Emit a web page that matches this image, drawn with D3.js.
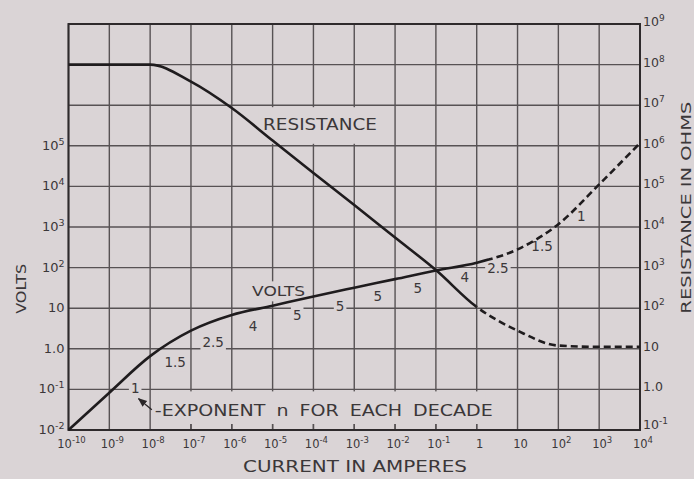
<!DOCTYPE html>
<html><head><meta charset="utf-8">
<script src="https://cdn.jsdelivr.net/npm/d3@7"></script>
<style>
html,body{margin:0;padding:0;background:#d9d3d5;}
svg{display:block;}
text{font-family:"DejaVu Sans","Liberation Sans",sans-serif;fill:#3b3739;}
</style>
</head><body>
<svg id="chart" width="694" height="479"></svg>
<script>
// ---------- data ----------
const currentTicks = [1e-10,1e-9,1e-8,1e-7,1e-6,1e-5,1e-4,1e-3,1e-2,1e-1,1,10,1e2,1e3,1e4];
const currentTickLabels = ["10^-10","10^-9","10^-8","10^-7","10^-6","10^-5","10^-4","10^-3","10^-2","10^-1","1","10","10^2","10^3","10^4"];
const voltGridTicks = [1e-2,1e-1,1,10,1e2,1e3,1e4,1e5,1e6,1e7,1e8];
const voltTicks = [1e-2,1e-1,1,10,1e2,1e3,1e4,1e5];
const voltTickLabels = ["10^-2","10^-1","1.0","10","10^2","10^3","10^4","10^5"];
const ohmTicks = [1e-1,1,10,1e2,1e3,1e4,1e5,1e6,1e7,1e8,1e9];
const ohmTickLabels = ["10^-1","1.0","10","10^2","10^3","10^4","10^5","10^6","10^7","10^8","10^9"];

// curves read at each decade of current
const current = [1e-10,1e-9,1e-8,1e-7,1e-6,1e-5,1e-4,1e-3,1e-2,1e-1,1,10,1e2,1e3,1e4];
const volts   = [0.01,0.083,0.66,2.8,6.8,11.5,19.5,32,52,85,132,282,1170,11200,117000];
const ohms    = [1e8,1e8,1e8,3.8e7,8.5e6,1.35e6,2.15e5,3.5e4,5.5e3,870,107,28,12,11.2,11.2];
const voltsDashFrom = 2;   // amperes: extrapolated part drawn dashed
const ohmsDashFrom = 1;

// exponent n for each decade (annotation placed at current / volts)
const exponentLabels = ["1","1.5","2.5","4","5","5","5","5","4","2.5","1.5","1"];
const exponentAtCurrent = [4.3e-9,4.1e-8,3.5e-7,3.3e-6,4.0e-5,4.5e-4,3.8e-3,3.6e-2,0.51,3.3,40,363];
const exponentAtVolts   = [0.107,0.47,1.48,3.6,6.8,11.2,20,32,59,98,339,1860];

// ---------- layout ----------
const svg = d3.select("#chart");
const W = 694, H = 479;
const L = 68.5, R = 640, T = 24, B = 430;
const bg = "#dad4d6";
const ink = "#1f1c1e";
const gridCol = "#575254";

svg.append("rect").attr("width",W).attr("height",H).attr("fill",bg);

const x = d3.scaleLog().domain([1e-10,1e4]).range([L,R]);
const yV = d3.scaleLog().domain([1e-2,1e8]).range([B,T]);
const yR = d3.scaleLog().domain([1e-1,1e9]).range([B,T]);

// grid
const grid = svg.append("g");
grid.selectAll("line.v").data(currentTicks).join("line")
  .attr("x1",d=>x(d)).attr("x2",d=>x(d)).attr("y1",T).attr("y2",B)
  .attr("stroke",gridCol).attr("stroke-width",1.4);
grid.selectAll("line.h").data(voltGridTicks).join("line")
  .attr("y1",d=>yV(d)).attr("y2",d=>yV(d)).attr("x1",L).attr("x2",R)
  .attr("stroke",gridCol).attr("stroke-width",1.4);

// boxes masking the grid behind lettering
const boxes = svg.append("g");
boxes.append("rect").attr("x",x(1.6e-8)).attr("y",yV(0.1)+2)
  .attr("width",x(1.6)-x(1.6e-8)).attr("height",B-yV(0.1)-8).attr("fill",bg);
boxes.append("rect").attr("x",x(4.4e-6)).attr("y",yR(1e7)+2)
  .attr("width",x(4.8e-3)-x(4.4e-6)).attr("height",yR(1e6)-yR(1e7)-4).attr("fill",bg);

// small ticks at bottom inside caption area
svg.append("g").selectAll("line").data(currentTicks.filter(d=>d>=1e-7 && d<=1))
  .join("line").attr("x1",d=>x(d)).attr("x2",d=>x(d)).attr("y1",B-6).attr("y2",B)
  .attr("stroke",gridCol).attr("stroke-width",1.4);

// frame
svg.append("rect").attr("x",L).attr("y",T).attr("width",R-L).attr("height",B-T)
  .attr("fill","none").attr("stroke","#2e2a2c").attr("stroke-width",2);

function powText(sel, label, supSize){
  const parts = label.split("^");
  sel.append("tspan").text(parts[0]);
  if(parts.length>1){
    sel.append("tspan").attr("dy",-5).attr("font-size",supSize).text(parts[1]);
  }
}

function boxedText(g, px, py, str, size, pad, len){
  const t = g.append("text").attr("x",px).attr("y",py).attr("text-anchor","middle")
    .attr("dominant-baseline","central").attr("font-size",size).text(str);
  if(len) t.attr("textLength",len).attr("lengthAdjust","spacingAndGlyphs");
  const bb = t.node().getBBox();
  g.insert("rect", () => t.node()).attr("x",bb.x-pad).attr("y",bb.y-pad+1)
    .attr("width",bb.width+2*pad).attr("height",bb.height+2*pad-2).attr("fill",bg);
  return t;
}

// exponent labels
const expG = svg.append("g");
exponentLabels.forEach((s,i)=>{
  boxedText(expG, x(exponentAtCurrent[i]), yV(exponentAtVolts[i]), s, 13.5, 2);
});

// VOLTS label on the plot
boxedText(svg.append("g"), x(1.4e-5), yV(26), "VOLTS", 13.5, 3, 53);

// curves
const lineV = d3.line().x((d,i)=>x(current[i])).y(d=>yV(d)).curve(d3.curveMonotoneX);
const lineR = d3.line().x((d,i)=>x(current[i])).y(d=>yR(d)).curve(d3.curveMonotoneX);

const defs = svg.append("defs");
function clip(id, x0, x1){
  defs.append("clipPath").attr("id",id).append("rect")
    .attr("x",x0).attr("y",0).attr("width",x1-x0).attr("height",H);
}
clip("vSolid",0,x(voltsDashFrom)); clip("vDash",x(voltsDashFrom),W);
clip("rSolid",0,x(ohmsDashFrom)); clip("rDash",x(ohmsDashFrom),W);

const curves = svg.append("g").attr("fill","none").attr("stroke",ink)
  .attr("stroke-width",2.6).attr("stroke-linejoin","round");
curves.append("path").attr("d",lineV(volts)).attr("clip-path","url(#vSolid)");
curves.append("path").attr("d",lineV(volts)).attr("clip-path","url(#vDash)")
  .attr("stroke-dasharray","7,4");
curves.append("path").attr("d",lineR(ohms)).attr("clip-path","url(#rSolid)");
curves.append("path").attr("d",lineR(ohms)).attr("clip-path","url(#rDash)")
  .attr("stroke-dasharray","7,4");

// RESISTANCE label
svg.append("text").attr("x",x(1.45e-4)).attr("y",yR(3.2e6)).attr("text-anchor","middle")
  .attr("dominant-baseline","central").attr("font-size",15.5)
  .attr("textLength",114).attr("lengthAdjust","spacingAndGlyphs").text("RESISTANCE");

// exponent caption + arrow
const capY = (yV(0.1)+B)/2 + 1;
svg.append("text").attr("x",x(1.3e-8)).attr("y",capY).attr("dominant-baseline","central")
  .attr("font-size",15.5).attr("textLength",338).attr("lengthAdjust","spacingAndGlyphs")
  .attr("word-spacing",4)
  .text("-EXPONENT n FOR EACH DECADE");
defs.append("marker").attr("id","ah").attr("viewBox","0 0 10 10").attr("refX",9).attr("refY",5)
  .attr("markerWidth",7).attr("markerHeight",7).attr("orient","auto")
  .append("path").attr("d","M0,1 L10,5 L0,9 Z").attr("fill","#2a2628");
svg.append("line").attr("x1",x(1.1e-8)).attr("y1",capY-1)
  .attr("x2",x(5.2e-9)).attr("y2",capY-12)
  .attr("stroke","#2a2628").attr("stroke-width",1.3).attr("marker-end","url(#ah)");

// x tick labels
const xl = svg.append("g").attr("font-size",11.5);
currentTicks.forEach((d,i)=>{
  const t = xl.append("text").attr("x",x(d)+3).attr("y",B+18).attr("text-anchor","middle");
  powText(t,currentTickLabels[i],8.5);
});
// left tick labels
const ll = svg.append("g").attr("font-size",13);
voltTicks.forEach((d,i)=>{
  const t = ll.append("text").attr("x",L-4).attr("y",yV(d)+4).attr("text-anchor","end");
  powText(t,voltTickLabels[i],9.5);
});
// right tick labels
const rl = svg.append("g").attr("font-size",12.5);
ohmTicks.forEach((d,i)=>{
  const t = rl.append("text").attr("x",R+3).attr("y",yR(d)+(d<1?-1:2)).attr("text-anchor","start");
  powText(t,ohmTickLabels[i],9);
});

// axis titles
svg.append("text").attr("x",355).attr("y",472).attr("text-anchor","middle")
  .attr("font-size",15).attr("textLength",224).attr("lengthAdjust","spacingAndGlyphs")
  .text("CURRENT IN AMPERES");
svg.append("text").attr("transform",`translate(26,${yV(30)}) rotate(-90)`)
  .attr("text-anchor","middle").attr("font-size",14).attr("textLength",50)
  .attr("lengthAdjust","spacingAndGlyphs").text("VOLTS");
svg.append("text").attr("transform",`translate(691,${yR(3e4)}) rotate(-90)`)
  .attr("text-anchor","middle").attr("font-size",14).attr("textLength",212)
  .attr("lengthAdjust","spacingAndGlyphs").text("RESISTANCE IN OHMS");
</script>
</body></html>
